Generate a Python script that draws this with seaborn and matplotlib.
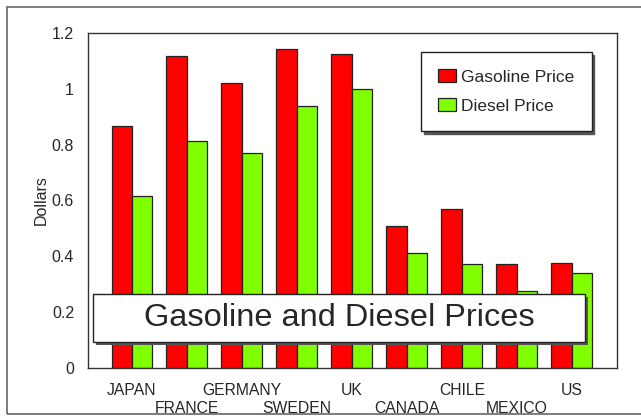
import matplotlib
matplotlib.use("Agg")
import matplotlib.pyplot as plt
import seaborn as sns
import pandas as pd
from matplotlib.patches import Rectangle

countries = ["JAPAN", "FRANCE", "GERMANY", "SWEDEN", "UK", "CANADA", "CHILE", "MEXICO", "US"]
gasoline = [0.867, 1.117, 1.021, 1.141, 1.123, 0.507, 0.570, 0.372, 0.375]
diesel = [0.616, 0.814, 0.769, 0.938, 0.998, 0.412, 0.372, 0.275, 0.339]
series = ["Gasoline Price", "Diesel Price"]
colors = ["#ff0000", "#80ff00"]

df = pd.DataFrame({
    "Country": countries * 2,
    "Price": gasoline + diesel,
    "Series": [series[0]] * len(countries) + [series[1]] * len(countries),
})

sns.set_style("white")
plt.rcParams["font.family"] = ["Liberation Sans", "DejaVu Sans"]

fig = plt.figure(figsize=(6.41, 4.20), dpi=100)
ax = fig.add_axes([88/641, 52/420, 529/641, 335/420])

sns.barplot(data=df, x="Country", y="Price", hue="Series", order=countries,
            hue_order=series, palette=dict(zip(series, colors)), width=0.745,
            edgecolor="#222222", linewidth=0.9, saturation=1, ax=ax, legend=True)

ax.set_xlim(-0.8, 8.82)
ax.set_ylim(0, 1.2)
ax.set_yticks([0, 0.2, 0.4, 0.6, 0.8, 1.0, 1.2])
ax.set_yticklabels(["0", "0.2", "0.4", "0.6", "0.8", "1", "1.2"])
ax.set_xlabel("")
ax.set_ylabel("Dollars", fontsize=11.5, labelpad=2)
ax.tick_params(axis="y", direction="in", length=7, width=0.8, labelsize=11.5, pad=10, color="#333333")
ax.tick_params(axis="x", length=0, labelsize=11.3)
for i, t in enumerate(ax.xaxis.get_major_ticks()):
    t.set_pad(11 if i % 2 == 0 else 24)
for s in ax.spines.values():
    s.set_color("#333333")
    s.set_linewidth(1.0)

# legend
handles, labels = ax.get_legend_handles_labels()
ax.get_legend().remove()
leg = fig.legend(handles, labels, loc="upper left",
                 bbox_to_anchor=(421/641, 1 - 52/420), bbox_transform=fig.transFigure,
                 fontsize=12.5, frameon=True, fancybox=False, shadow={"color": "#555555", "alpha": 1},
                 handlelength=1.0, handleheight=0.7, handletextpad=0.3,
                 borderpad=1.0, labelspacing=0.8, borderaxespad=0)
leg.get_frame().set_edgecolor("#222222")
leg.get_frame().set_linewidth(1.0)

# title box with shadow
x0, y0, w, h = 93/641, 78/420, 492/641, 48/420
fig.add_artist(Rectangle((x0 + 3/641, y0 - 3/420), w, h, transform=fig.transFigure,
                         facecolor="#555555", edgecolor="none", zorder=10))
fig.add_artist(Rectangle((x0, y0), w, h, transform=fig.transFigure,
                         facecolor="white", edgecolor="#222222", linewidth=1.0, zorder=11))
fig.text(x0 + w/2, y0 + h/2, "Gasoline and Diesel Prices", ha="center", va="center",
         fontsize=23.4, zorder=12)

# outer frame
fig.add_artist(Rectangle((7/641, 6/420), 1.0, 407/420, transform=fig.transFigure,
                         facecolor="none", edgecolor="#666666", linewidth=1.2, zorder=0))

fig.savefig("out.png", dpi=100)
